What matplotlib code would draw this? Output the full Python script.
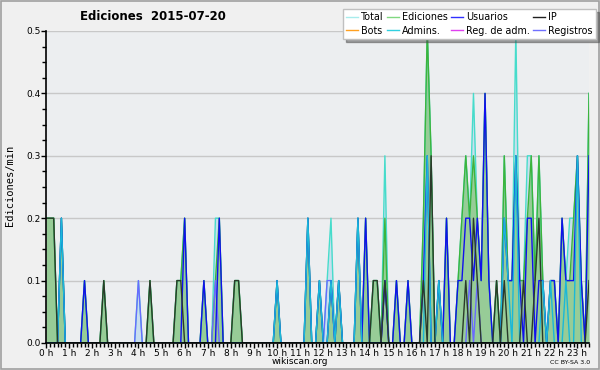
import numpy as np
import matplotlib
matplotlib.use("Agg")
import matplotlib.pyplot as plt
from matplotlib.ticker import MultipleLocator, FixedLocator
from matplotlib.patches import Rectangle
from matplotlib.lines import Line2D

N = 142  # 10-minute bins from 00:00 to 23:30

# sparse readings: index -> value (edits/min)
total_pts = {0: .2, 1: .2, 2: .2, 4: .2, 10: .1, 15: .1, 24: .1, 27: .1, 34: .1, 35: .1, 36: .2,
             41: .1, 44: .2, 45: .2, 49: .1, 50: .1, 60: .1, 68: .2, 71: .1, 73: .1, 74: .2,
             76: .1, 81: .2, 83: .2, 85: .1, 86: .1, 88: .3, 91: .1, 94: .1, 98: .2, 99: .5,
             100: .3, 102: .1, 104: .2, 107: .1, 108: .2, 109: .3, 110: .2, 111: .4, 112: .2,
             113: .1, 114: .4, 115: .1, 117: .1, 119: .3, 120: .1, 121: .1, 122: .5, 123: .1,
             124: .1, 125: .3, 126: .3, 127: .1, 128: .3, 129: .1, 131: .1, 132: .1, 134: .2,
             135: .1, 136: .2, 137: .2, 138: .3, 139: .1, 141: .4}
ediciones_pts = {0: .2, 1: .2, 2: .2, 4: .2, 10: .1, 15: .1, 27: .1, 34: .1, 35: .1, 36: .2,
                 41: .1, 44: .1, 45: .2, 49: .1, 50: .1, 60: .1, 68: .2, 71: .1, 74: .1,
                 76: .1, 81: .2, 83: .2, 85: .1, 86: .1, 88: .2, 91: .1, 94: .1, 98: .2, 99: .5,
                 100: .3, 102: .1, 104: .2, 107: .1, 108: .2, 109: .3, 110: .2, 111: .3, 112: .2,
                 113: .1, 114: .4, 115: .1, 117: .1, 119: .3, 120: .1, 121: .1, 122: .3, 123: .1,
                 124: .1, 125: .2, 126: .3, 127: .1, 128: .3, 129: .1, 131: .1, 132: .1, 134: .2,
                 135: .1, 136: .1, 137: .2, 138: .3, 139: .1, 141: .4}
usuarios_pts = {4: .2, 10: .1, 36: .2, 41: .1, 45: .2, 60: .1, 68: .2, 71: .1, 74: .1, 76: .1,
                81: .2, 83: .2, 88: .1, 91: .1, 94: .1, 98: .1, 99: .3, 102: .1, 104: .2,
                107: .1, 108: .1, 109: .2, 110: .2, 111: .1, 112: .2, 113: .1, 114: .4, 115: .1,
                119: .2, 120: .1, 121: .1, 122: .3, 123: .1, 125: .2, 126: .2, 128: .1, 129: .1,
                131: .1, 132: .1, 134: .2, 135: .1, 136: .1, 137: .1, 138: .3, 139: .1, 141: .3}
ip_pts = {0: .2, 1: .2, 2: .2, 15: .1, 27: .1, 34: .1, 35: .1, 49: .1, 50: .1, 85: .1, 86: .1,
          88: .1, 98: .1, 100: .3, 109: .1, 111: .2, 112: .1, 117: .1, 119: .1, 124: .1,
          127: .1, 128: .2, 141: .1}
admins_pts = {4: .2, 60: .1, 68: .2, 71: .1, 74: .1, 76: .1, 81: .2, 99: .3, 102: .1,
              119: .2, 120: .1, 122: .3, 129: .1, 131: .1, 135: .1, 138: .3}
registros_pts = {24: .1, 44: .1, 73: .1, 74: .1, 88: .1, 110: .1, 112: .1}


def series(pts):
    a = np.zeros(N)
    for k, v in pts.items():
        a[k] = v
    return a


total = series(total_pts)
ediciones = series(ediciones_pts)
usuarios = series(usuarios_pts)
ip = series(ip_pts)
admins = series(admins_pts)
registros = series(registros_pts)

hours = np.arange(N) / 6.0
hour_labels = [f"{h} h" for h in range(24)]

fig = plt.figure(figsize=(6, 3.7), dpi=100, facecolor="#f0f0f0")
fig.patches.append(Rectangle((0.002, 0.003), 0.996, 0.994, transform=fig.transFigure,
                             fill=False, edgecolor="#a0a0a0", linewidth=1.2))
ax = fig.add_axes([46 / 600, 1 - 343 / 370, 543 / 600, 312 / 370])
ax.set_facecolor("#eceef0")

ax.fill_between(hours, total, color="#c9dfee", lw=0, zorder=1)
ax.fill_between(hours, ediciones, color="#97cc97", lw=0, zorder=2)
lw = 1.0
ax.plot(hours, total, color="#46dccb", lw=lw, zorder=3)
ax.plot(hours, ediciones, color="#3cb43c", lw=lw, zorder=4)
ax.plot(hours, registros, color="#6a6aff", lw=lw, zorder=5)
ax.plot(hours, usuarios, color="#1010ee", lw=lw, zorder=6)
ax.plot(hours, admins, color="#1ab8d8", lw=lw, zorder=7)
ax.plot(hours, ip, color="#2a3a2a", lw=lw, zorder=8)

ax.set_xlim(0, hours[-1])
ax.set_ylim(0, 0.5)
ax.yaxis.set_major_locator(MultipleLocator(0.1))
ax.yaxis.set_minor_locator(MultipleLocator(0.025))
ax.yaxis.set_major_formatter(matplotlib.ticker.FormatStrFormatter("%.1f"))
ax.xaxis.set_major_locator(FixedLocator(range(24)))
ax.xaxis.set_minor_locator(MultipleLocator(1 / 6))
ax.set_xticklabels(hour_labels)
ax.grid(axis="y", color="#c8c8c8", lw=1)
ax.set_axisbelow(True)
for s in ["top", "right"]:
    ax.spines[s].set_visible(False)
for s in ["left", "bottom"]:
    ax.spines[s].set_linewidth(1.2)
    ax.spines[s].set_zorder(10)
ax.tick_params(axis="both", which="major", labelsize=6.5, length=3.5, width=1, pad=0.5)
ax.tick_params(axis="both", which="minor", length=3, width=1)

fig.text(153 / 600, 1 - 17 / 370, "Ediciones  2015-07-20", ha="center", va="center",
         fontsize=8.5, fontweight="bold")
fig.text(10 / 600, 1 - 185 / 370, "Ediciones/min", rotation=90, ha="center", va="center",
         fontsize=7.5, family="DejaVu Sans Mono")
fig.text(300 / 600, 1 - 362 / 370, "wikiscan.org", ha="center", va="center", fontsize=6.5)
fig.text(590 / 600, 1 - 363 / 370, "CC BY-SA 3.0", ha="right", va="center", fontsize=4.5)

names = ["Total", "Bots", "Ediciones", "Admins.", "Usuarios", "Reg. de adm.", "IP", "Registros"]
cols = ["#a8ecec", "#ffa020", "#80d880", "#30d0e0", "#3030ff", "#e040f0", "#202020", "#7070ff"]
handles = [Line2D([], [], color=c, lw=1) for c in cols]
leg = fig.legend(handles, names, ncol=4, loc="upper right", bbox_to_anchor=(596 / 600, 1 - 9 / 370),
                 fontsize=6.9, frameon=True, fancybox=False, shadow=True, edgecolor="#c0c0c0",
                 handlelength=1.2, handletextpad=0.35, columnspacing=0.35, labelspacing=0.35,
                 borderpad=0.35, borderaxespad=0)
leg.get_frame().set_facecolor("white")

fig.savefig("out.png", dpi=100, facecolor=fig.get_facecolor())
